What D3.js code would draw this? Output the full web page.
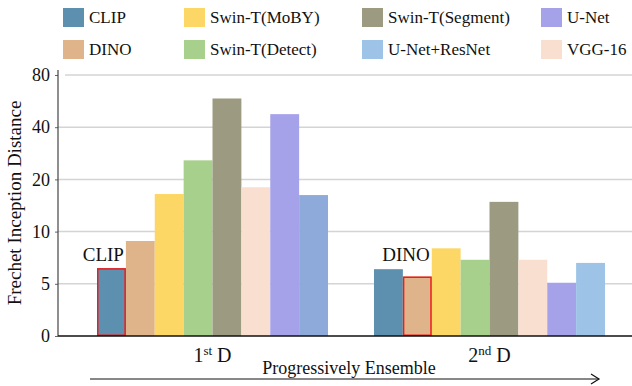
<!DOCTYPE html>
<html>
<head>
<meta charset="utf-8">
<script src="https://d3js.org/d3.v7.min.js"></script>
<style>
  body { margin: 0; background: #fff; }
  svg text { font-family: 'Liberation Serif', Tinos, 'Times New Roman', 'DejaVu Serif', serif !important; fill: #111; }
</style>
</head>
<body>
<div id="chart"></div>
<script>
// Data
const groups = ["1st D", "2nd D"];
const models = ["CLIP", "DINO", "Swin-T(MoBY)", "Swin-T(Detect)", "Swin-T(Segment)", "VGG-16", "U-Net", "U-Net+ResNet"];
const fid1st = [6.5, 9.1, 17.2, 27.3, 62, 18.5, 50, 17.0];
const fid2nd = [6.4, 5.7, 8.4, 7.3, 15.7, 7.3, 5.1, 7.0];
const yTicks = [0, 5, 10, 20, 40, 80];
const legendOrder = ["CLIP", "DINO", "Swin-T(MoBY)", "Swin-T(Detect)", "Swin-T(Segment)", "U-Net+ResNet", "U-Net", "VGG-16"];
const highlighted = ["CLIP", "DINO"]; // outlined model per group

const colors = {
  "CLIP": "#5d8fae",
  "DINO": "#dfb48a",
  "Swin-T(MoBY)": "#fdd766",
  "Swin-T(Detect)": "#a8d08d",
  "Swin-T(Segment)": "#9c9a80",
  "VGG-16": "#f9dfd0",
  "U-Net": "#a6a2ea",
  "U-Net+ResNet": "#9dc3e6"
};

const serif = "'Liberation Serif', Tinos, 'Times New Roman', 'DejaVu Serif', serif";
const width = 632, height = 386;
const svg = d3.select("#chart").append("svg")
  .attr("width", width)
  .attr("height", height)
  .attr("font-family", serif);

// Scales
const x0 = d3.scaleBand().domain(groups).range([97, 605]).paddingInner(0.166).paddingOuter(0);
const x1 = d3.scaleBand().domain(models).range([0, x0.bandwidth()]).padding(0);
const y = d3.scaleLinear()
  .domain(yTicks)
  .range(yTicks.map((d, i) => 336 - i * 52.2));

// Grid
svg.append("g")
  .selectAll("line")
  .data(yTicks.slice(1))
  .join("line")
  .attr("x1", d => d === 80 ? 65 : 58)
  .attr("x2", width)
  .attr("y1", d => y(d))
  .attr("y2", d => y(d))
  .attr("stroke", "#d4d4d4")
  .attr("stroke-width", 1.5);

// Bars
const data = groups.map((g, gi) => ({
  group: g,
  values: models.map((m, i) => ({ model: m, group: gi, value: (gi === 0 ? fid1st : fid2nd)[i] }))
}));

const gGroups = svg.append("g").selectAll("g")
  .data(data)
  .join("g")
  .attr("transform", d => `translate(${x0(d.group)},0)`);

gGroups.selectAll("rect")
  .data(d => d.values)
  .join("rect")
  .attr("x", d => x1(d.model))
  .attr("y", d => y(d.value))
  .attr("width", x1.bandwidth())
  .attr("height", d => y(0) - y(d.value))
  .attr("fill", d => (d.group === 0 && d.model === "U-Net+ResNet") ? "#8eaadb" : colors[d.model]);

// Highlight outline + label
gGroups.each(function(d, gi) {
  const m = highlighted[gi];
  const v = d.values.find(e => e.model === m).value;
  const g = d3.select(this);
  g.append("rect")
    .attr("x", x1(m) + 0.75)
    .attr("y", y(v) + 0.75)
    .attr("width", x1.bandwidth() - 1.5)
    .attr("height", y(0) - y(v) - 1.5)
    .attr("fill", "none")
    .attr("stroke", "#ee1c1c")
    .attr("stroke-width", 1.5);
  g.append("text")
    .attr("x", x1(m) + x1.bandwidth() - 2)
    .attr("y", 261)
    .attr("text-anchor", "end")
    .style("font-size", "19px")
    .text(m);
});

// Y axis
const yAxis = svg.append("g")
  .attr("transform", "translate(58,0)")
  .call(d3.axisLeft(y).tickValues(yTicks).tickSize(3).tickPadding(5));
yAxis.attr("font-family", serif);
yAxis.select(".domain").remove();
yAxis.selectAll(".tick line").attr("stroke", "#666");
yAxis.selectAll(".tick text")
  .style("font-size", "18px")
  .attr("fill", "#111");
svg.append("line")
  .attr("x1", 58).attr("x2", 58)
  .attr("y1", 70).attr("y2", y(0))
  .attr("stroke", "#444").attr("stroke-width", 1.2);

// X baseline
svg.append("line")
  .attr("x1", 58).attr("x2", width)
  .attr("y1", y(0)).attr("y2", y(0))
  .attr("stroke", "#111").attr("stroke-width", 1.5);

// Y title
svg.append("text")
  .attr("transform", `translate(21,${(70 + 336) / 2}) rotate(-90)`)
  .attr("text-anchor", "middle")
  .style("font-size", "19px")
  .text("Frechet Inception Distance");

// Group labels with superscripts
const sup = ["st", "nd"];
groups.forEach((g, i) => {
  const t = svg.append("text")
    .attr("x", x0(g) + x0.bandwidth() / 2)
    .attr("y", 362)
    .attr("text-anchor", "middle")
    .style("font-size", "20px");
  t.append("tspan").text(g.charAt(0));
  t.append("tspan").attr("dy", -7).style("font-size", "13px").text(sup[i]);
  t.append("tspan").attr("dy", 7).text(" D");
});

// Progressive arrow
svg.append("text")
  .attr("x", 349)
  .attr("y", 374)
  .attr("text-anchor", "middle")
  .style("font-size", "18px")
  .text("Progressively Ensemble");
svg.append("line")
  .attr("x1", 90).attr("x2", 599)
  .attr("y1", 379).attr("y2", 379)
  .attr("stroke", "#111").attr("stroke-width", 1.2);
svg.append("path")
  .attr("d", "M591,374 L599,379 L591,384")
  .attr("fill", "none")
  .attr("stroke", "#111").attr("stroke-width", 1.2);

// Legend (2 rows x 4 columns, column-major)
const legendX = [63, 184, 362, 541];
const legendY = [8, 40];
const legend = svg.append("g").selectAll("g")
  .data(legendOrder)
  .join("g")
  .attr("transform", (d, i) => `translate(${legendX[Math.floor(i / 2)]},${legendY[i % 2]})`);
legend.append("rect")
  .attr("width", 21)
  .attr("height", 19)
  .attr("fill", d => colors[d]);
legend.append("text")
  .attr("x", 26)
  .attr("y", 15)
  .style("font-size", "17px")
  .text(d => d);
</script>
</body>
</html>
